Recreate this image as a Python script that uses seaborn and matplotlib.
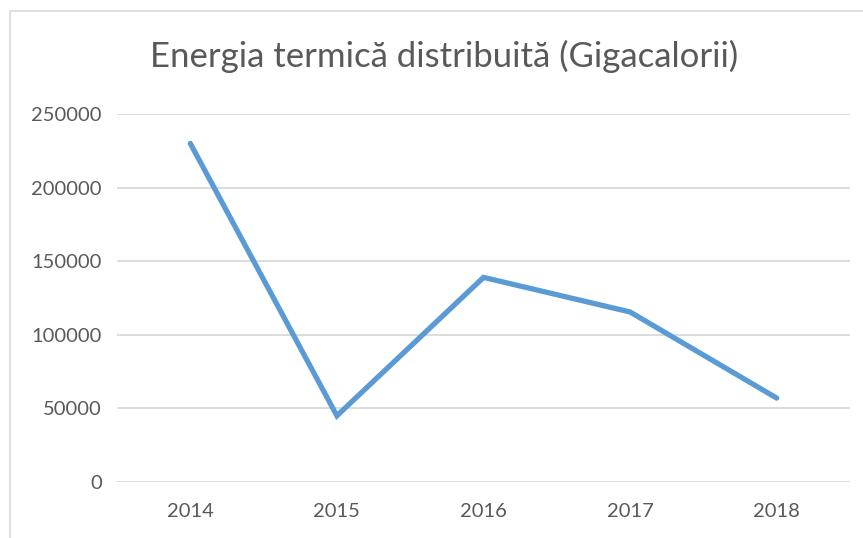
import seaborn as sns
import matplotlib.pyplot as plt
import pandas as pd
from matplotlib.patches import Rectangle

# date
ani = ["2014", "2015", "2016", "2017", "2018"]
energie = [230000, 45000, 139000, 115500, 57000]
y_ticks = [0, 50000, 100000, 150000, 200000, 250000]

df = pd.DataFrame({"an": ani, "energie": energie})

sns.set_theme(style="white")
plt.rcParams['font.family'] = ['Lato', 'DejaVu Sans']

fig = plt.figure(figsize=(8.63, 5.38), dpi=100)
ax = fig.add_axes([117 / 863, 56 / 538, 733 / 863, 368 / 538])

# chenar gri in jurul graficului
fig.patches.append(Rectangle((10 / 863, -0.1), 1.0, (538 - 11) / 538 + 0.1,
                             transform=fig.transFigure, fill=False,
                             edgecolor="#D9D9D9", linewidth=1.2))

sns.lineplot(data=df, x="an", y="energie", ax=ax, color="#5B9BD5",
             linewidth=3.8, solid_capstyle="round", solid_joinstyle="miter")

ax.set_xlim(-0.5, 4.5)
ax.set_ylim(0, 250000)
ax.set_yticks(y_ticks)
ax.set_yticklabels([str(v) for v in y_ticks])
ax.grid(axis="y", color="#D9D9D9", linewidth=1.3)
ax.set_axisbelow(True)
for s in ax.spines.values():
    s.set_visible(False)
ax.tick_params(axis="both", length=0, labelsize=14.5, labelcolor="#595959")
ax.tick_params(axis="y", pad=11)
ax.tick_params(axis="x", pad=15)
ax.set_xlabel("")
ax.set_ylabel("")

fig.text(444 / 863, 1 - 56 / 538, "Energia termică distribuită (Gigacalorii)",
         ha="center", va="center", fontsize=25, color="#595959")

fig.savefig("out.png", dpi=100)
